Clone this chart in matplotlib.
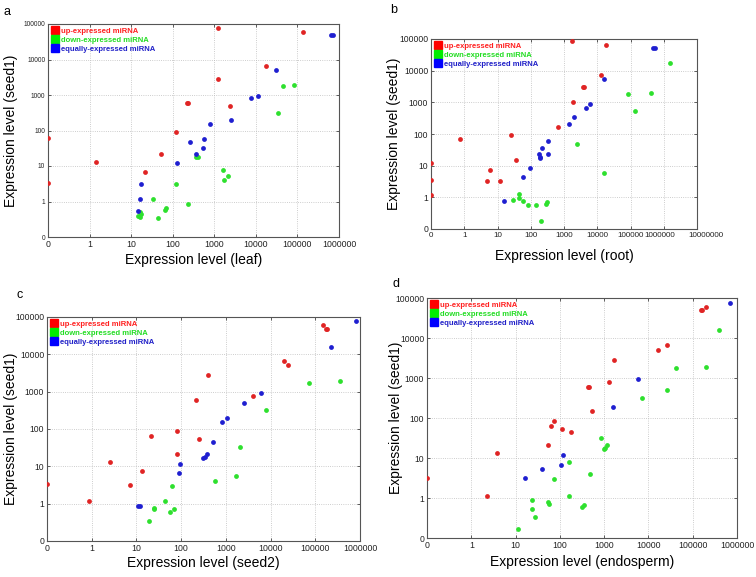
import matplotlib
matplotlib.use('Agg')
import matplotlib.pyplot as plt
import matplotlib.transforms as mtransforms
from matplotlib.lines import Line2D

plt.rcParams['font.family'] = ['Liberation Sans', 'DejaVu Sans']

# ---- panel a: leaf vs seed1 ----
red_a_x = [0, 0, 1.4, 21.6, 53, 118, 215, 230, 1250, 1250, 2400, 18000, 139000]
red_a_y = [63, 3.3, 13, 6.8, 21.6, 88, 610, 600, 75000, 2750, 500, 6600, 60000]
green_a_x = [15, 16, 16.5, 17, 33, 44, 64, 68, 123, 237, 360, 400, 1650, 1700, 2170, 34500, 45600, 83000]
green_a_y = [0.6, 0.55, 0.7, 0.65, 1.16, 0.53, 0.75, 0.82, 3.1, 0.92, 17.5, 17.5, 7.9, 4.0, 5.4, 320, 1750, 1870]
blue_a_x = [14.5, 16, 17, 125, 256, 357, 525, 555, 770, 2560, 7760, 11000, 31000, 640000, 730000]
blue_a_y = [0.72, 1.16, 3.2, 11.9, 46, 21.6, 33, 56, 154, 195, 810, 920, 5130, 48000, 49000]

# ---- panel b: root vs seed1 ----
red_b_x = [0, 0, 0, 0.87, 5.0, 5.8, 11.8, 26, 36.6, 675, 1700, 1850, 3800, 4000, 12600, 18700]
red_b_y = [12.4, 3.6, 1.18, 68, 3.4, 7.5, 3.4, 93, 14.7, 166, 85000, 1050, 3100, 3100, 7300, 66000]
green_b_x = [28.5, 43, 43, 58, 80, 143, 203, 295, 305, 2450, 16300, 82000, 134000, 405000, 1580000]
green_b_y = [0.92, 1.24, 0.98, 0.88, 0.75, 0.75, 0.24, 0.8, 0.85, 48, 6.0, 1880, 535, 1970, 17000]
blue_b_x = [15.2, 57, 97, 180, 190, 195, 222, 322, 327, 1440, 2040, 4700, 5900, 16300, 467000, 537000]
blue_b_y = [0.88, 4.4, 8.2, 24, 19, 17.8, 36, 24, 58, 213, 335, 680, 865, 5600, 53000, 53000]

# ---- panel c: seed2 vs seed1 ----
red_c_x = [0, 0.93, 2.6, 7.0, 13, 21, 80, 80, 214, 257, 400, 4000, 19600, 25000, 151000, 174000, 179000]
red_c_y = [3.3, 1.15, 12.8, 3.2, 7.5, 63, 87, 22, 610, 55, 2800, 780, 6600, 5100, 61000, 48000, 48000]
green_c_x = [19, 24.5, 24.5, 44, 55, 61, 68, 565, 1700, 2100, 7900, 71000, 360000]
green_c_y = [0.54, 0.89, 0.85, 1.15, 0.79, 3.0, 0.85, 4.0, 5.4, 33.7, 316, 1740, 1900]
blue_c_x = [11, 12.1, 90, 96, 316, 333, 388, 520, 800, 1070, 2600, 6200, 229000, 815000]
blue_c_y = [0.94, 0.94, 6.8, 11.6, 17, 17.5, 22, 46, 154, 196, 490, 940, 15400, 76000]

# ---- panel d: endosperm vs seed1 ----
red_d_x = [0, 2.3, 3.9, 54, 62, 72, 113, 183, 440, 460, 540, 1320, 1650, 16600, 25700, 155000, 163000, 200000]
red_d_y = [3.2, 1.12, 13, 21, 62, 85, 54, 45, 600, 590, 152, 800, 2750, 5150, 6500, 49000, 50000, 60000]
green_d_x = [11.5, 23.4, 24, 28, 55, 56, 72, 158, 165, 310, 345, 490, 840, 980, 1040, 1170, 7200, 26000, 41000, 200000, 400000]
green_d_y = [0.23, 0.94, 0.72, 0.53, 0.9, 0.84, 3.0, 7.8, 1.12, 0.78, 0.83, 4.0, 32, 17, 18, 21.7, 316, 490, 1770, 1870, 15600]
blue_d_x = [16.5, 39, 104, 117, 1600, 5900, 710000]
blue_d_y = [3.1, 5.2, 6.7, 11.6, 192, 920, 76000]

legend_labels = ['up-expressed miRNA', 'down-expressed miRNA', 'equally-expressed miRNA']
dot_colors = ['#e02424', '#2ee02e', '#1f1fd0']
key_colors = ['#ff0000', '#00ee00', '#0000ff']
text_colors = ['#ff2020', '#22dd22', '#2020c8']

x_ticks_6 = [0, 1, 10, 100, 1000, 10000, 100000, 1000000]
x_ticks_7 = x_ticks_6 + [10000000]
y_ticks = [0, 1, 10, 100, 1000, 10000, 100000]

W, H = 756, 577
fig = plt.figure(figsize=(W / 100, H / 100), dpi=100)


def px_axes(left, right, top, bottom):
    return fig.add_axes([left / W, 1 - bottom / H, (right - left) / W, (bottom - top) / H])


def panel(ax, series, xticks, xlabel, xlab_y, ylab_x, ytick_size=6.2, xtick_size=6.3):
    for (xs, ys), c in zip(series, dot_colors):
        ax.scatter(xs, ys, s=12, color=c, linewidths=0, zorder=3)
    ax.set_xscale('symlog', linthresh=1, linscale=0.9)
    ax.set_yscale('symlog', linthresh=1, linscale=0.9)
    ax.set_xlim(0, xticks[-1])
    ax.set_ylim(0, 100000)
    ax.set_xticks(xticks)
    ax.set_xticklabels([str(t) for t in xticks])
    ax.set_yticks(y_ticks)
    ax.set_yticklabels([str(t) for t in y_ticks])
    ax.minorticks_off()
    ax.tick_params(direction='in', length=2, width=0.5, pad=2,
                   top=True, right=True, colors='#222222')
    ax.tick_params(axis='x', labelsize=xtick_size)
    ax.tick_params(axis='y', labelsize=ytick_size)
    ax.grid(True, linestyle=':', color='#bdbdbd', linewidth=0.6)
    for sp in ax.spines.values():
        sp.set_color('#555555')
        sp.set_linewidth(0.8)
    ax.set_xlabel(xlabel, fontsize=10)
    ax.set_ylabel('Expression level (seed1)', fontsize=10)
    ax.xaxis.set_label_coords(0.5, xlab_y)
    ax.yaxis.set_label_coords(ylab_x, 0.5)
    handles = [Line2D([], [], marker='s', linestyle='None', color=c, markersize=5.5)
               for c in key_colors]
    ax.legend(handles, legend_labels, loc='upper left', frameon=False,
              prop={'size': 5.5, 'weight': 'bold'}, labelcolor=text_colors,
              handlelength=0.8, handletextpad=0.4, labelspacing=0.2,
              borderaxespad=0.2, borderpad=0.3)


ax_a = px_axes(48, 339, 24, 237)
panel(ax_a, [(red_a_x, red_a_y), (green_a_x, green_a_y), (blue_a_x, blue_a_y)],
      x_ticks_6, 'Expression level (leaf)', -0.075, -0.103, ytick_size=4.8)

ax_b = px_axes(431, 697, 39, 229)
panel(ax_b, [(red_b_x, red_b_y), (green_b_x, green_b_y), (blue_b_x, blue_b_y)],
      x_ticks_7, 'Expression level (root)', -0.105, -0.113, xtick_size=5.8)
# last two labels on b are pushed apart, as in the original
labels_b = ax_b.get_xticklabels()
for lab, dx in [(labels_b[-2], -4), (labels_b[-1], 9)]:
    lab.set_transform(lab.get_transform() +
                      mtransforms.ScaledTranslation(dx / 100, 0, fig.dpi_scale_trans))

ax_c = px_axes(47, 360, 317, 541)
panel(ax_c, [(red_c_x, red_c_y), (green_c_x, green_c_y), (blue_c_x, blue_c_y)],
      x_ticks_6, 'Expression level (seed2)', -0.067, -0.093)

ax_d = px_axes(427, 737, 298, 538)
panel(ax_d, [(red_d_x, red_d_y), (green_d_x, green_d_y), (blue_d_x, blue_d_y)],
      x_ticks_6, 'Expression level (endosperm)', -0.071, -0.077)

for lab, x, y in [('a', 7, 12), ('b', 394, 10), ('c', 20, 295), ('d', 396, 284)]:
    fig.text(x / W, 1 - y / H, lab, fontsize=9, ha='center', va='center')

fig.savefig('out.png', dpi=100)
